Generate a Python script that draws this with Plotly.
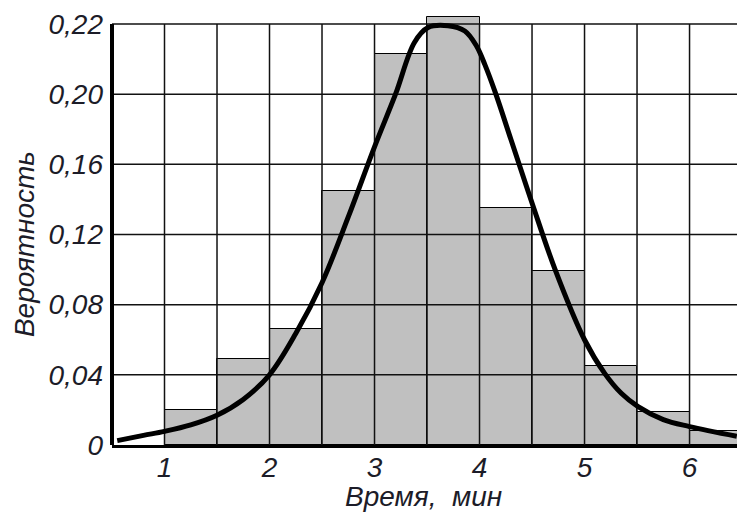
import plotly.graph_objects as go

# Histogram bins (width 0.5) and probabilities read against the (uniform) grid
bin_centers = [1.25, 1.75, 2.25, 2.75, 3.25, 3.75, 4.25, 4.75, 5.25, 5.75, 6.25]
bin_probs = [0.020, 0.049, 0.066, 0.145, 0.223, 0.244, 0.135, 0.099, 0.045, 0.019, 0.008]

# Fitted density curve
curve_x = [0.55, 0.8, 1.0, 1.25, 1.5, 1.75, 2.0, 2.25, 2.5, 2.75, 3.0, 3.2, 3.38, 3.51,
           3.7, 3.86, 3.97, 4.05, 4.15, 4.30, 4.5, 4.72, 5.0, 5.19, 5.35, 5.51, 5.75,
           6.0, 6.45]
curve_y = [0.0025, 0.0055, 0.0078, 0.0115, 0.017, 0.026, 0.040, 0.0635, 0.0925, 0.130,
           0.170, 0.200, 0.2295, 0.238, 0.239, 0.236, 0.2276, 0.217, 0.201, 0.174,
           0.138, 0.100, 0.060, 0.041, 0.0295, 0.0219, 0.0145, 0.0105, 0.005]

# Axis ticks (top label in the original reads "0,22")
x_tickvals = [1, 2, 3, 4, 5, 6]
x_ticktext = ["1", "2", "3", "4", "5", "6"]
y_tickvals = [0, 0.04, 0.08, 0.12, 0.16, 0.20, 0.24]
y_ticktext = ["0", "0,04", "0,08", "0,12", "0,16", "0,20", "0,22"]
x_grid = [1.0, 1.5, 2.0, 2.5, 3.0, 3.5, 4.0, 4.5, 5.0, 5.5, 6.0]

X_MIN, X_MAX = 0.5, 6.452
Y_TOP = 0.24

TXT = "#1c1c28"
tick_font = dict(family="Liberation Sans, Arial", size=28, color=TXT, style="italic")

fig = go.Figure()

fig.add_trace(go.Bar(
    x=bin_centers, y=bin_probs, width=0.5,
    marker=dict(color="#c0c0c0", line=dict(color="#000000", width=1)),
    hoverinfo="skip", showlegend=False,
))

# Grid drawn above the bars, below the curve
gx, gy = [], []
for xv in x_grid:
    gx += [xv, xv, None]
    gy += [0, Y_TOP, None]
for yv in y_tickvals[1:]:
    gx += [X_MIN, 6.6, None]
    gy += [yv, yv, None]
fig.add_trace(go.Scatter(x=gx, y=gy, mode="lines",
                         line=dict(color="#111111", width=1.5),
                         hoverinfo="skip", showlegend=False))

fig.add_trace(go.Scatter(
    x=curve_x, y=curve_y, mode="lines",
    line=dict(color="#000000", width=5, shape="spline", smoothing=1.0),
    hoverinfo="skip", showlegend=False,
))

fig.update_layout(
    width=737, height=516,
    margin=dict(l=112, r=0, t=7, b=71),
    paper_bgcolor="white", plot_bgcolor="white",
    bargap=0,
    xaxis=dict(range=[X_MIN, X_MAX], tickvals=x_tickvals, ticktext=x_ticktext,
               showgrid=False, zeroline=False, showline=True, linecolor="black",
               linewidth=3, ticks="", tickfont=tick_font, ticklabelstandoff=-5),
    yaxis=dict(range=[0, 0.2497], tickvals=y_tickvals, ticktext=y_ticktext,
               showgrid=False, zeroline=False, showline=False, ticks="",
               tickfont=tick_font, ticklabelstandoff=8),
    shapes=[dict(type="line", xref="paper", x0=0, x1=0, yref="y", y0=0, y1=Y_TOP,
                 line=dict(color="black", width=4), layer="above")],
    annotations=[
        dict(text="Вероятность", xref="paper", yref="paper", x=-0.139, y=0.459,
             textangle=-90, showarrow=False, xanchor="center", yanchor="middle",
             font=dict(family="Liberation Sans, Arial", size=28, color=TXT, style="italic")),
        dict(text="Время,\u00a0 мин", xref="paper", yref="paper", x=0.4976, y=-0.1187,
             showarrow=False, xanchor="center", yanchor="middle", font=tick_font),
    ],
)

fig.write_html("out.html", config={"displayModeBar": False},
               post_script="document.body.style.margin='0';document.body.style.overflow='hidden';")
